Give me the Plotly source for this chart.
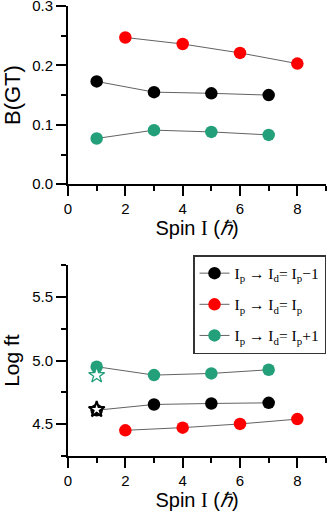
import plotly.graph_objects as go
from plotly.subplots import make_subplots

# Data
spin_odd = [1, 3, 5, 7]
spin_even = [2, 4, 6, 8]

bgt_minus = [0.173, 0.155, 0.153, 0.150]
bgt_same = [0.247, 0.236, 0.221, 0.203]
bgt_plus = [0.077, 0.091, 0.088, 0.083]

logft_minus = [4.61, 4.655, 4.663, 4.668]
logft_same = [4.452, 4.473, 4.502, 4.54]
logft_plus = [4.952, 4.886, 4.899, 4.928]

star_spin = [1]
star_black = [4.615]
star_green = [4.885]

spin_ticks = [0, 2, 4, 6, 8]
spin_minor = [1, 3, 5, 7, 9]
bgt_ticks = [0.0, 0.1, 0.2, 0.3]
bgt_minor = [0.05, 0.15, 0.25]
logft_ticks = [4.5, 5.0, 5.5]
logft_minor = [4.25, 4.75, 5.25, 5.75]

names = ["I<sub>p</sub> \u2192 I<sub>d</sub>= I<sub>p</sub>\u22121",
         "I<sub>p</sub> \u2192 I<sub>d</sub>= I<sub>p</sub>",
         "I<sub>p</sub> \u2192 I<sub>d</sub>= I<sub>p</sub>+1"]
colors = ["#000000", "#ff0000", "#23a07a"]

fig = make_subplots(rows=2, cols=1, vertical_spacing=0.0)

line_style = dict(color="#3a3a3a", width=0.8)
series = [(spin_odd, bgt_minus, logft_minus),
          (spin_even, bgt_same, logft_same),
          (spin_odd, bgt_plus, logft_plus)]

for i, ((xs, top, bot), name, col) in enumerate(zip(series, names, colors)):
    fig.add_trace(go.Scatter(x=xs, y=top, mode="lines+markers", line=line_style,
                             marker=dict(color=col, size=12.5), showlegend=False),
                  row=1, col=1)
    fig.add_trace(go.Scatter(x=xs, y=bot, mode="lines+markers", line=line_style,
                             marker=dict(color=col, size=12.5), name=name,
                             legendgroup=str(i)),
                  row=2, col=1)

# stars at I=1
fig.add_trace(go.Scatter(x=star_spin, y=star_green, mode="markers", showlegend=False,
                         marker=dict(symbol="star", size=12, color="white",
                                     line=dict(color=colors[2], width=1.3))),
              row=2, col=1)
fig.add_trace(go.Scatter(x=star_spin, y=star_black, mode="markers", showlegend=False,
                         marker=dict(symbol="star", size=12, color="white",
                                     line=dict(color="black", width=2))),
              row=2, col=1)

xtitle = "Spin <span style='font-family:Liberation Serif'>I</span> (<i>\u210f</i>)"
axis_common = dict(showline=True, linecolor="black", linewidth=2, ticks="outside",
                   ticklen=10, tickwidth=2, tickcolor="black", showgrid=False,
                   zeroline=False, ticklabeloverflow="allow",
                   tickfont=dict(size=15, color="black"))
minor_common = dict(ticklen=5, tickwidth=2, tickcolor="black", ticks="outside")

for r in (1, 2):
    fig.update_xaxes(range=[0, 9], tickvals=spin_ticks,
                     minor=dict(tickvals=spin_minor, **minor_common),
                     title=dict(text=xtitle, font=dict(size=20, color="black"), standoff=4),
                     row=r, col=1, **axis_common)

fig.update_yaxes(range=[0, 0.3], tickvals=bgt_ticks, tickformat=".1f",
                 minor=dict(tickvals=bgt_minor, **minor_common),
                 title=dict(text="B(GT)", font=dict(size=22, color="black"), standoff=14),
                 row=1, col=1, **axis_common)
fig.update_yaxes(range=[4.25, 5.75], tickvals=logft_ticks, tickformat=".1f",
                 minor=dict(tickvals=logft_minor, **minor_common),
                 title=dict(text="Log ft", font=dict(size=21, color="black"), standoff=14),
                 row=2, col=1, **axis_common)

fig.update_layout(
    width=328, height=515,
    margin=dict(l=68, r=2, t=6, b=59, autoexpand=False),
    paper_bgcolor="white", plot_bgcolor="white",
    font=dict(family="Liberation Sans, Arial", color="black"),
    xaxis=dict(domain=[0, 1]), yaxis=dict(domain=[0.604, 1]),
    xaxis2=dict(domain=[0, 1]), yaxis2=dict(domain=[0, 0.424]),
    legend=dict(x=1.0, y=0.4465, xanchor="right", yanchor="top",
                bordercolor="#333", borderwidth=1.5, bgcolor="white",
                font=dict(family="Liberation Serif, Times New Roman", size=15.5, color="black"),
                itemwidth=30, traceorder="grouped", tracegroupgap=8),
)

# page body has a default 8px margin; drop it so the figure sits at the window corner
fig.write_html("out.html", config={"displayModeBar": False},
               post_script="document.body.style.margin='0';")
